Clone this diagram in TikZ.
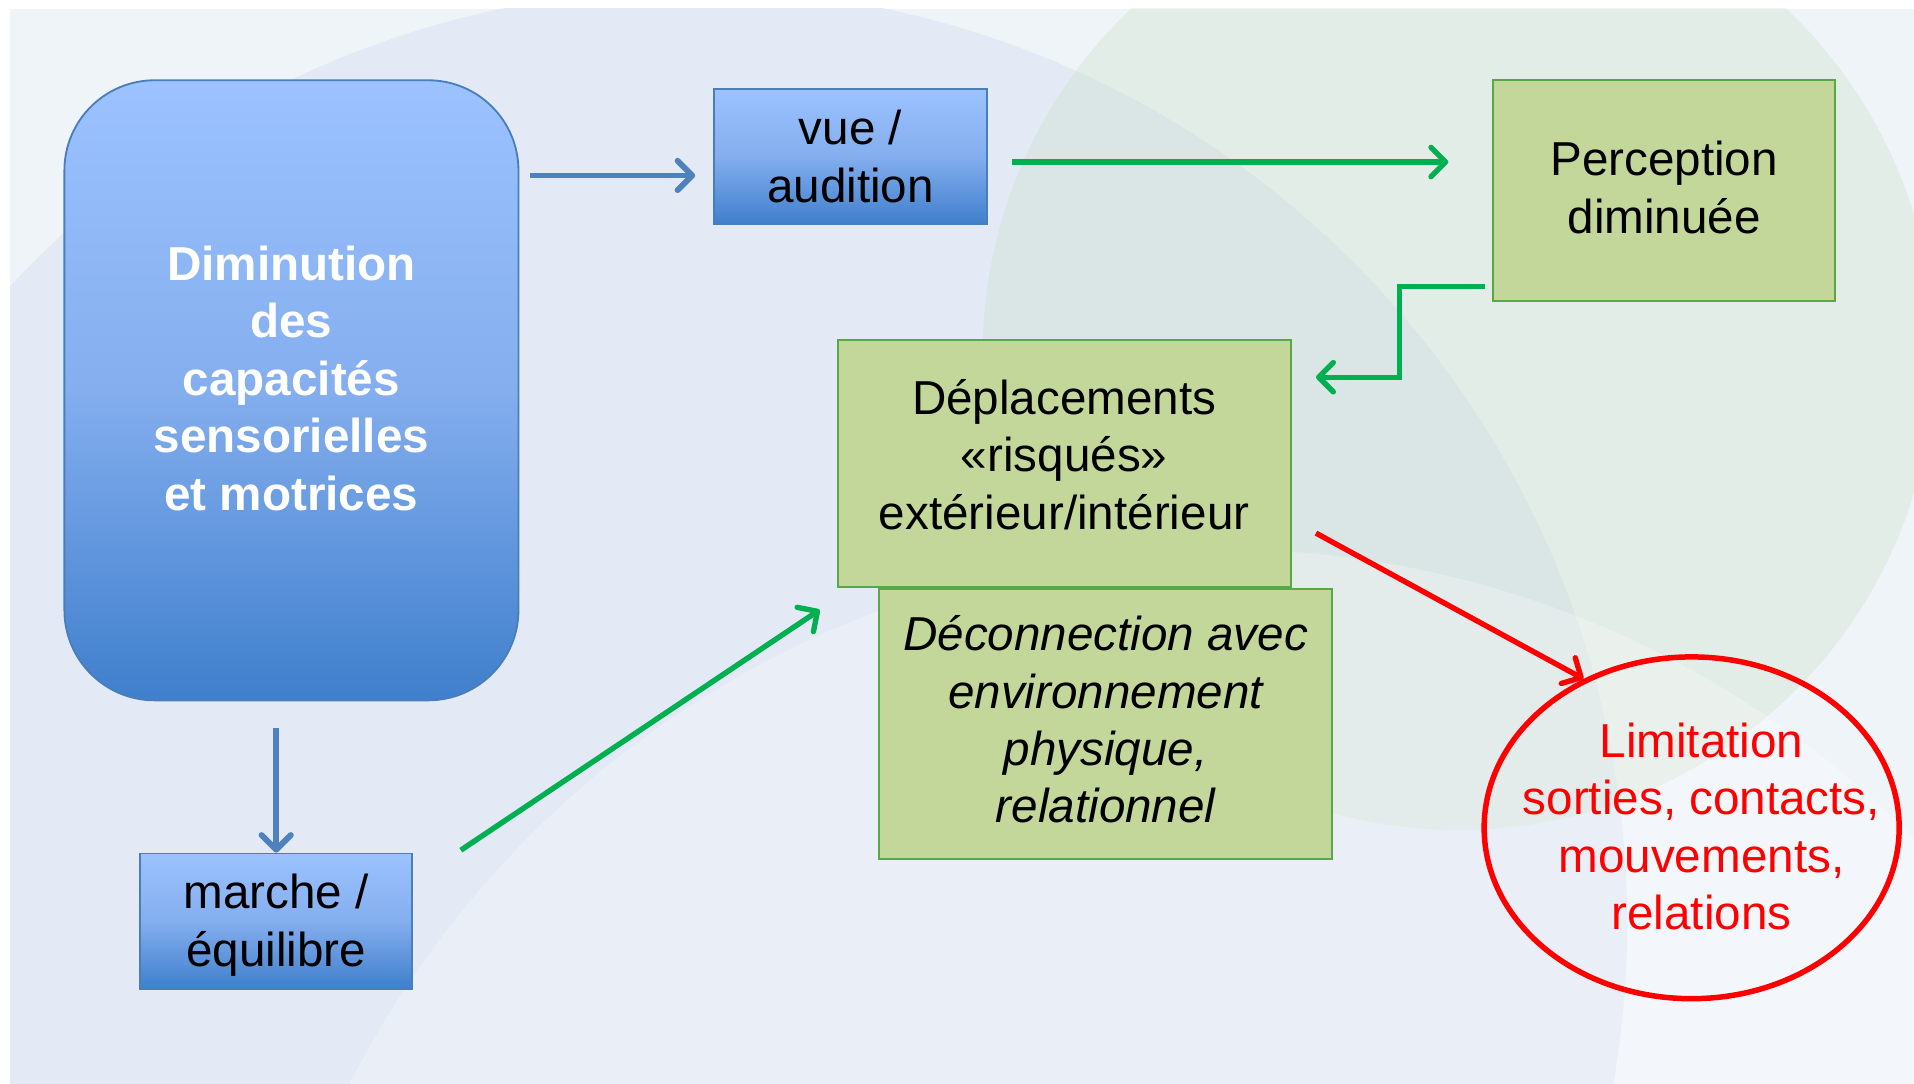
\documentclass[tikz,border=0pt]{standalone}
\usepackage{fontspec}
\setmainfont{Liberation Sans}
\usetikzlibrary{positioning,calc,arrows.meta,shapes.geometric}

\definecolor{bgLight}{HTML}{EFF4F9}
\definecolor{bgMain}{HTML}{E3EAF5}
\definecolor{bgGreen}{HTML}{C8DEC3}
\definecolor{blueTop}{HTML}{9CC2FF}
\definecolor{blueMid}{HTML}{84AEEE}
\definecolor{blueBot}{HTML}{3F7FCC}
\definecolor{blueLine}{HTML}{4A7EBB}
\definecolor{greenFill}{HTML}{C4D79B}
\definecolor{greenLine}{HTML}{5AA845}
\definecolor{arrBlue}{HTML}{4F81BD}
\definecolor{arrGreen}{HTML}{00B050}

\begin{document}
\begin{tikzpicture}[
    txt/.style={font=\fontsize{19.5}{23.5}\selectfont, align=center},
    bluebox/.style={txt, draw=blueLine, line width=0.75pt, top color=blueTop, bottom color=blueBot, middle color=blueMid, inner sep=0pt, minimum width=111.5pt, minimum height=55.5pt},
    greenbox/.style={txt, draw=greenLine, line width=0.8pt, fill=greenFill, inner sep=0pt},
    linkarrow/.style={line width=2.2pt, -{Straight Barb[length=6pt,width=12pt,round]}},
    bluearrow/.style={linkarrow, line width=2.4pt, draw=arrBlue},
    greenarrow/.style={linkarrow, draw=arrGreen},
    redarrow/.style={linkarrow, draw=red}
]

    \useasboundingbox (0pt,0pt) rectangle (784pt,-444pt);

    % slide background with its round shapes
    \begin{scope}
        \clip (4pt,-3.5pt) rectangle (784pt,-444pt);
        \fill[bgLight] (4pt,-3.5pt) rectangle (784pt,-444pt);
        \fill[bgMain] (284pt,-378pt) circle (382.5pt); % big blue-grey disc
        \fill[bgGreen, opacity=0.3] (597.5pt,-145pt) circle (195pt); % green disc at right
        \fill[white, opacity=0.25] (500pt,-625pt) circle (400pt); % light disc at bottom
    \end{scope}

    \node [bluebox, anchor=north west, rounded corners=37pt, minimum width=186pt, minimum height=254pt, text=white, text depth=10pt, font=\fontsize{19.5}{23.5}\selectfont\bfseries] (dimin) at (26pt,-32.5pt) {Diminution\\des\\capacités\\sensorielles\\et motrices}; % big box at left
    \node [bluebox, below right=3.5pt and 79.5pt of dimin.north east] (vue) {vue /\\audition}; % top small box
    \node [greenbox, minimum width=140pt, minimum height=90.5pt, text depth=3pt, below right=0pt and 398.5pt of dimin.north east] (percep) {Perception\\diminuée}; % box at top right
    \node [greenbox, minimum width=185.5pt, minimum height=101.25pt, text depth=7.5pt, below right=46.5pt and 50.5pt of vue.south west] (deplac) {Déplacements\\«risqués»\\extérieur/intérieur}; % middle box
    \node [greenbox, minimum width=185.5pt, minimum height=110.75pt, text depth=4pt, below right=0pt and 17pt of deplac.south west, font=\fontsize{19.5}{23.5}\selectfont\itshape] (decon) {Déconnection avec\\environnement\\physique,\\relationnel}; % box under it
    \node [bluebox, text depth=1pt, below right=62pt and 31pt of dimin.south west] (marche) {marche /\\équilibre}; % bottom small box
    \node [ellipse, draw=red, line width=2.25pt, minimum width=170pt, minimum height=140pt, inner sep=0pt, right=60.75pt of decon.east, yshift=-42.5pt] (limit) {}; % red ring
    \node [txt, text=red] (limitlbl) at ([shift={(4pt,0.5pt)}]limit.center) {Limitation\\sorties, contacts,\\mouvements,\\relations}; % text in the ring

    \draw [bluearrow] ($(dimin.east |- vue.west)+(4.5pt,-7.75pt)$) -- ($(vue.west)+(-7.5pt,-7.75pt)$);
    \draw [greenarrow] ($(vue.east)+(10pt,-2.25pt)$) -- ($(percep.west |- vue.east)+(-18pt,-2.25pt)$);
    \draw [greenarrow] ([shift={(-3pt,6.5pt)}]percep.south west) -- ++(-35pt,0pt) |- ([shift={(10pt,-15.75pt)}]deplac.north east);
    \draw [bluearrow] ($(marche.north |- dimin.south)+(0pt,-11pt)$) -- (marche.north);
    \draw [greenarrow] ([shift={(19.5pt,1pt)}]marche.north east) -- ([shift={(-7pt,-9pt)}]deplac.south west);
    \draw [redarrow] ([shift={(10pt,-28.6pt)}]deplac.east) -- (limit.126);

\end{tikzpicture}
\end{document}
